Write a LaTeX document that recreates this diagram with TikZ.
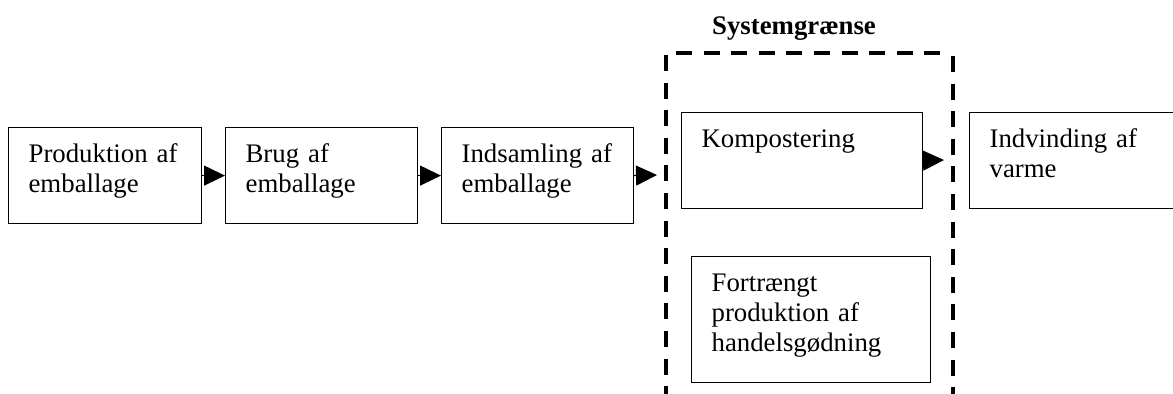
\documentclass[tikz,border=0pt]{standalone}
\usepackage{fontspec}
\setmainfont{Liberation Serif}
\usetikzlibrary{arrows.meta}
\tikzset{
  stage/.style={draw, line width=0.6pt, anchor=north west, align=left,
    inner xsep=10pt, inner ysep=0pt, text height=17.5pt, text depth=30.5pt,
    font=\fontsize{13.4}{15}\selectfont},
  flow/.style={-{Triangle[length=10.5pt,width=10pt]}, line width=0.6pt},
  border/.style={line width=2pt, dash pattern=on 8pt off 5.8pt}
}
\begin{document}
\begin{tikzpicture}[x=0.5pt,y=-0.5pt]
\clip (0,0) rectangle (1173,394);
\node[stage, text width=76.5pt] (prod) at (8,127) {Produktion af\\emballage};
\node[stage, text width=76pt] (brug) at (225,127) {Brug af\\emballage};
\node[stage, text width=76pt] (saml) at (441,127) {Indsamling af\\emballage};
\node[stage, text width=100.5pt] (komp) at (681,112) {Kompostering};
\node[stage, text width=99.5pt, text depth=45.5pt] (goed) at (691,256) {Fortrængt\\produktion af\\handelsgødning};
\node[stage, text width=95pt] (varme) at (969,112) {Indvinding af\\varme};
\node[font=\bfseries\fontsize{13.4}{15}\selectfont, anchor=base] (grens) at (794,35) {Systemgrænse};
\coordinate (ind) at (657,175);
\coordinate (ud) at (944,160);
\draw[flow] (prod.east) -- (brug.west);
\draw[flow] (brug.east) -- (saml.west);
\draw[flow] (saml.east) -- (ind);
\draw[flow] (komp.east) -- (ud);
\draw[border] (666,55) -- (666,420);
\draw[border] (676,53) -- (945,53);
\draw[border] (953,56) -- (953,420);
\end{tikzpicture}
\end{document}
